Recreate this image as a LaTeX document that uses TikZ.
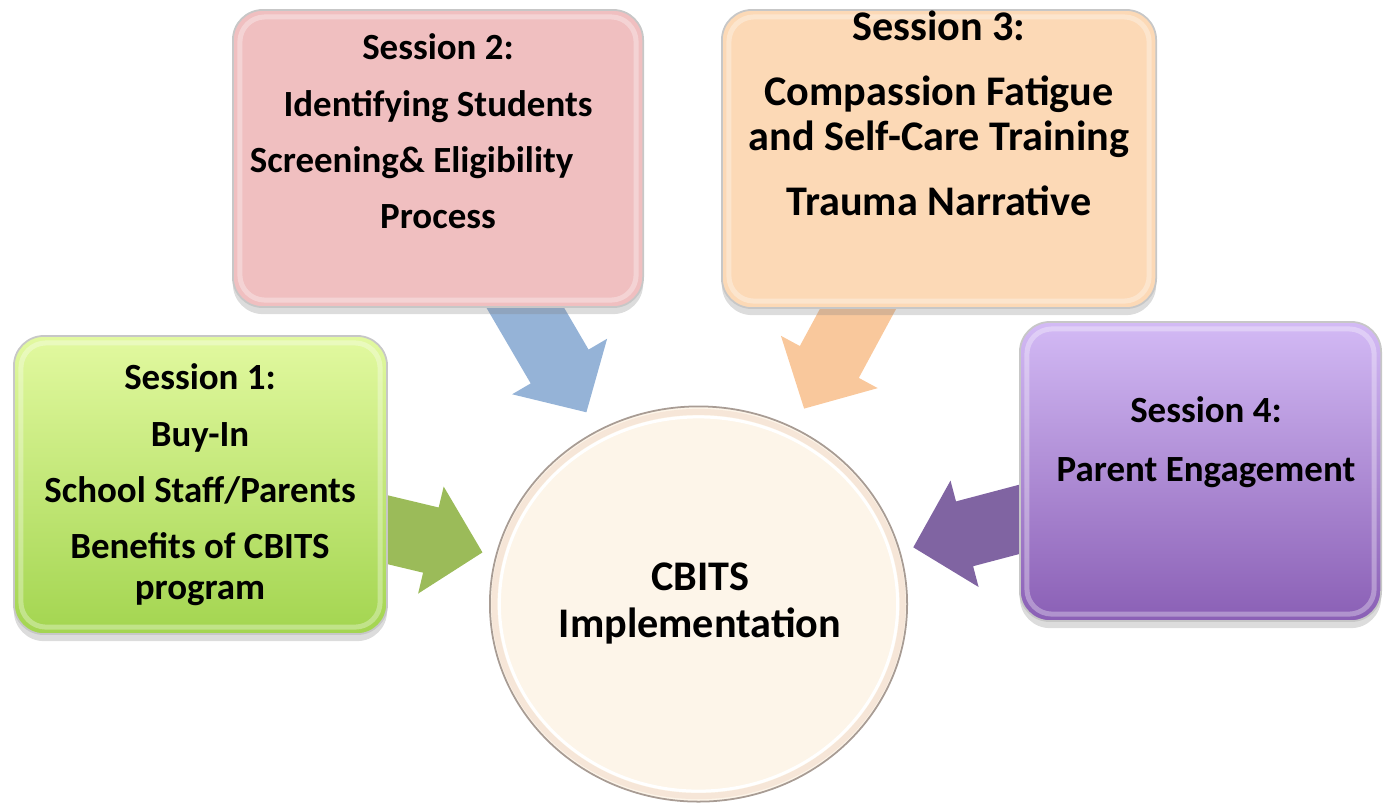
\documentclass[tikz,border=0pt]{standalone}
\usepackage{fontspec}
\setmainfont{Carlito}
\usetikzlibrary{calc,shadows,backgrounds,shapes.geometric}

\definecolor{greenTop}{HTML}{E2F9A0}
\definecolor{greenBot}{HTML}{A3D550}
\definecolor{pinkBox}{HTML}{F0BFC0}
\definecolor{peachBox}{HTML}{FCD9B6}
\definecolor{purpleTop}{HTML}{D3BAF5}
\definecolor{purpleBot}{HTML}{8A5FB5}
\definecolor{hubFill}{HTML}{FDF5E9}
\definecolor{hubRim}{HTML}{F6E6D8}
\definecolor{hubEdge}{HTML}{A89C94}
\definecolor{greenArrow}{HTML}{9BBB59}
\definecolor{blueArrow}{HTML}{95B3D7}
\definecolor{peachArrow}{HTML}{F9C89C}
\definecolor{purpleArrow}{HTML}{8064A2}

\tikzset{
	session/.style={rectangle, rounded corners=0.3cm, draw=black!22, line width=0.5pt,
		drop shadow={opacity=0.28, shadow xshift=0pt, shadow yshift=-0.07cm},
		path picture={\draw[white, opacity=0.32, line width=0.05cm, rounded corners=0.25cm]
			([shift={(0.07cm,-0.07cm)}]path picture bounding box.north west) rectangle
			([shift={(-0.07cm,0.07cm)}]path picture bounding box.south east);}},
	boxtext/.style={align=center, inner sep=0pt, font=\bfseries\fontsize{10.5}{11.7}\selectfont},
	bigtext/.style={align=center, inner sep=0pt, font=\bfseries\fontsize{12}{12.8}\selectfont},
	hubtext/.style={align=center, inner sep=0pt, font=\bfseries\fontsize{12}{13.4}\selectfont},
}

\begin{document}
\begin{tikzpicture}[x=0.01cm, y=-0.01cm]
	\useasboundingbox (0,0) rectangle (1383,802);
	\clip (0,0) rectangle (1383,802);

	\node[session, minimum width=3.73cm, minimum height=2.98cm,
		top color=greenTop, bottom color=greenBot] (s1) at (200.5,485) {};
	\node[session, minimum width=4.10cm, minimum height=2.97cm,
		fill=pinkBox] (s2) at (438,158.5) {};
	\node[session, minimum width=4.34cm, minimum height=2.98cm,
		fill=peachBox] (s3) at (939,159) {};
	\node[session, minimum width=3.61cm, minimum height=2.99cm,
		top color=purpleTop, bottom color=purpleBot] (s4) at (1200.5,471.5) {};

	\node[ellipse, minimum width=4.17cm, minimum height=3.95cm, fill=hubFill,
		draw=hubEdge, line width=0.5pt,
		path picture={
			\draw[hubRim, line width=0.06cm] (path picture bounding box.center)
				ellipse [x radius=2.04cm, y radius=1.92cm];
			\draw[white, line width=0.03cm] (path picture bounding box.center)
				ellipse [x radius=1.99cm, y radius=1.87cm];
		}] (hub) at (698.5,604) {};

	\begin{scope}[on background layer]
		\foreach \s/\c in {s1/greenArrow, s2/blueArrow, s3/peachArrow, s4/purpleArrow} {
			\coordinate (tip) at ($(hub)!2.22cm!(\s.center)$);
			\coordinate (base) at ($(tip)!0.53cm!(\s.center)$);
			\fill[\c] ($(\s.center)!0.335cm!-90:(tip)$) -- ($(base)!0.335cm!-90:(tip)$)
				-- ($(base)!0.55cm!-90:(tip)$) -- (tip) -- ($(base)!0.55cm!90:(tip)$)
				-- ($(base)!0.335cm!90:(tip)$) -- ($(\s.center)!0.335cm!90:(tip)$) -- cycle;
		}
	\end{scope}

	\node[boxtext] (t1) at (200,485)
		{Session 1:\\[4.3pt] Buy-In\\[4.3pt] School Staff/Parents\\[4.3pt] Benefits of CBITS\\ program};
	\node[boxtext] (t2) at (438,131.5)
		{Session 2:\\[4.3pt] Identifying Students\\[4.3pt] Screening\& Eligibility\rule{15pt}{0pt}\\[4.3pt] Process};
	\node[bigtext] (t3) at (939,113)
		{Session 3:\\[5.7pt] Compassion Fatigue\\ and Self-Care Training\\[5.7pt] Trauma Narrative};
	\node[boxtext] (t4) at (1206,442.5) {Session 4:\\[5pt] Parent Engagement};
	\node[hubtext] (t5) at (700,603.5) {CBITS\\ Implementation};
\end{tikzpicture}
\end{document}
